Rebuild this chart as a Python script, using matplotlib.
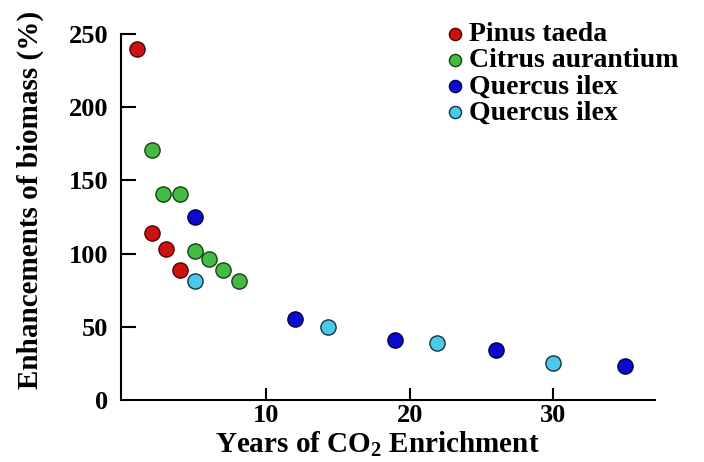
import matplotlib
matplotlib.use("Agg")
import matplotlib.pyplot as plt

# ---- data ----
pinus_x = [1, 2, 3, 4]
pinus_y = [240, 114, 103, 89]

citrus_x = [2, 2.8, 4, 5, 6, 7, 8.1]
citrus_y = [171, 141, 141, 102, 96, 89, 81]

quercus_x = [5, 12, 19, 26, 35]
quercus_y = [125, 55, 41, 34, 23]

quercus2_x = [5, 14.3, 21.9, 30]
quercus2_y = [81, 50, 39, 25]

series = [
    ("Pinus taeda", pinus_x, pinus_y, "#cc1111", "#550000"),
    ("Citrus aurantium", citrus_x, citrus_y, "#44bb44", "#114411"),
    ("Quercus ilex", quercus_x, quercus_y, "#0a0ad0", "#000044"),
    ("Quercus ilex", quercus2_x, quercus2_y, "#4cc8e8", "#113344"),
]

plt.rcParams["font.family"] = ["Liberation Serif", "DejaVu Serif"]
plt.rcParams["font.weight"] = "bold"
plt.rcParams["mathtext.fontset"] = "custom"
plt.rcParams["mathtext.bf"] = "Liberation Serif:bold"
plt.rcParams["mathtext.rm"] = "Liberation Serif:bold"

fig = plt.figure(figsize=(7.04, 4.62), dpi=100)
ax = fig.add_axes([121 / 704, 62 / 462, 534 / 704, 366 / 462])

for name, xs, ys, fc, ec in series:
    ax.scatter(xs, ys, s=120, c=fc, edgecolors=ec, linewidths=1.0,
               label=name, zorder=3)

ax.set_xlim(-0.14, 37.1)
ax.set_ylim(0, 250)
ax.set_xticks([10, 20, 30])
ax.set_yticks([0, 50, 100, 150, 200, 250])

for side in ("top", "right"):
    ax.spines[side].set_visible(False)
for side in ("left", "bottom"):
    ax.spines[side].set_linewidth(1.5)

ax.tick_params(axis="y", direction="in", length=11, width=1.5,
               pad=9, labelsize=19)
ax.tick_params(axis="x", direction="in", length=9, width=1.5,
               pad=3, labelsize=19)
ax.yaxis.get_major_ticks()[0].tick1line.set_visible(False)

ax.set_xlabel(r"Years of CO$_\mathbf{2}$ Enrichment", fontsize=21,
              fontweight="bold")
ax.set_ylabel("Enhancements of biomass (%)", fontsize=21, fontweight="bold")
ax.xaxis.set_label_coords(0.480, -0.080)
ax.yaxis.set_label_coords(-0.144, 0.546)

ax.legend(loc="upper left", bbox_to_anchor=(441 / 704, 1 - 22 / 462),
          bbox_transform=fig.transFigure, frameon=False, fontsize=20,
          handletextpad=0.0, labelspacing=0.02, borderpad=0,
          borderaxespad=0, handlelength=1.0, scatterpoints=1,
          markerscale=0.8)

fig.savefig("out.png", dpi=100)
